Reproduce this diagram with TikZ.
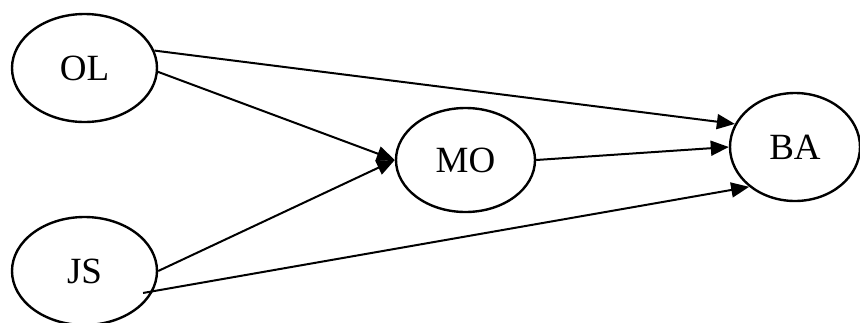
\documentclass[tikz,border=0pt]{standalone}
\usepackage{fontspec}
\setmainfont{Liberation Serif}
\usetikzlibrary{shapes.geometric,arrows.meta}
\begin{document}
\begin{tikzpicture}[x=1pt,y=-1pt,
  var/.style={draw=black, line width=2.4pt, ellipse, inner sep=0pt,
    font=\fontsize{37}{40}\selectfont},
  link/.style={draw=black, line width=2pt, -{Triangle[length=18pt,width=15pt]}}]
\useasboundingbox (0,0) rectangle (860,322);
\node[var, minimum width=145pt, minimum height=108pt] (OL) at (84.5,68) {OL};
\node[var, minimum width=145pt, minimum height=108pt] (JS) at (84.5,271) {JS};
\node[var, minimum width=139pt, minimum height=104pt] (MO) at (465.5,160) {MO};
\node[var, minimum width=130pt, minimum height=108pt] (BA) at (795,147) {BA};
\draw[link] (OL.14) -- (BA.159);
\draw[link] (OL.-3) -- (MO.west);
\draw[link] (JS.0) -- (MO.west);
\draw[link] (MO.east) -- (BA.west);
\draw[link] ([xshift=-9pt]JS.-18) -- (BA.221);
\end{tikzpicture}
\end{document}
